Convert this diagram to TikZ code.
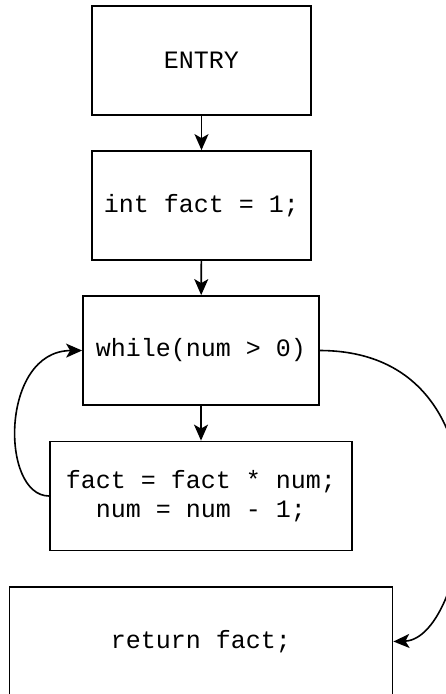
\documentclass[tikz,border=0pt]{standalone}
\usepackage{fontspec}
\setmonofont{Liberation Mono}
\usetikzlibrary{arrows.meta}
\begin{document}
\begin{tikzpicture}[x=1pt,y=-1pt,
  box/.style={draw, line width=1.8pt, rectangle, inner sep=0pt, align=center,
    font=\ttfamily\fontsize{25}{29}\selectfont},
  arr/.style={line width=1.6pt, -{Stealth[length=16pt,width=14pt,inset=4pt]}}]
\useasboundingbox (0,0) rectangle (446,694);
\clip (0,0) rectangle (446,694);
\node[box, minimum width=219pt, minimum height=109pt] (entry) at (201.5,60.5) {ENTRY};
\node[box, minimum width=219pt, minimum height=109pt] (init) at (201.5,205.5) {int fact = 1;};
\node[box, minimum width=236pt, minimum height=109pt] (loop) at (201,350.5) {while(num > 0)};
\node[box, minimum width=302pt, minimum height=109pt] (body) at (201,496) {fact = fact * num;\\num = num - 1;};
\node[box, minimum width=383pt, minimum height=109pt] (ret) at (201,641.5) {return fact;};
\draw[arr] (entry) -- (init);
\draw[arr] (init) -- (loop);
\draw[arr] (loop) -- (body);
\draw[arr] (body.west) .. controls (0,496) and (0,351) .. (loop.west);
\draw[arr] (loop.east) .. controls (520,351) and (470,639) .. (ret.east);
\end{tikzpicture}
\end{document}
